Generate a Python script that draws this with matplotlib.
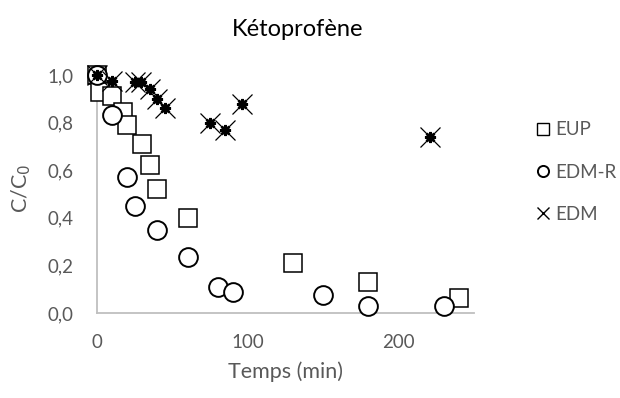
import matplotlib
matplotlib.use("Agg")
import matplotlib.pyplot as plt
from matplotlib.lines import Line2D

plt.rcParams['font.family'] = ['Lato', 'DejaVu Sans']

# data
t_eup = [0, 2, 10, 17, 20, 30, 35, 40, 60, 130, 180, 240]
c_eup = [1.0, 0.93, 0.91, 0.845, 0.79, 0.71, 0.62, 0.52, 0.40, 0.21, 0.13, 0.065]

t_edmr = [0, 10, 20, 25, 40, 60, 80, 90, 150, 180, 230]
c_edmr = [1.0, 0.83, 0.57, 0.45, 0.35, 0.235, 0.11, 0.09, 0.075, 0.03, 0.03]

t_edm = [0, 10, 25, 29, 35, 40, 45, 75, 85, 96, 221]
c_edm = [1.0, 0.975, 0.97, 0.97, 0.94, 0.90, 0.86, 0.80, 0.77, 0.88, 0.74]

xticks = [0, 100, 200]
yticks = [0.0, 0.2, 0.4, 0.6, 0.8, 1.0]

grey = '#595959'

fig = plt.figure(figsize=(6.2, 3.98), dpi=100)
ax = fig.add_axes([0.1565, 0.2136, 0.608, 0.598])

ax.plot(t_eup, c_eup, ls='none', marker='s', ms=13.5, mfc='white', mec='black',
        mew=1.1, clip_on=False, zorder=3)
ax.plot(t_edmr, c_edmr, ls='none', marker='o', ms=13.5, mfc='white', mec='black',
        mew=1.4, clip_on=False, zorder=4)
ax.plot(t_edm, c_edm, ls='none', marker='x', ms=14, mec='black', mew=0.9,
        clip_on=False, zorder=5)
ax.plot(t_edm, c_edm, ls='none', marker=(8, 2, 0), ms=8, mec='black', mew=1.8,
        clip_on=False, zorder=5)

ax.set_xlim(0, 250)
ax.set_ylim(0, 1.0)
ax.set_xticks(xticks)
ax.set_yticks(yticks)
ax.set_yticklabels([f"{v:.1f}".replace('.', ',') for v in yticks])
ax.tick_params(length=0, labelsize=13.5, colors=grey)
ax.tick_params(axis='y', pad=17)
ax.tick_params(axis='x', pad=15)

for s in ['top', 'right']:
    ax.spines[s].set_visible(False)
for s in ['left', 'bottom']:
    ax.spines[s].set_color('#BFBFBF')
    ax.spines[s].set_linewidth(1.3)
    ax.spines[s].set_zorder(1)

fig.text(0.48, 1 - 30 / 398, 'Kétoprofène', fontsize=17, color='black',
         ha='center', va='center')
ax.set_xlabel('Temps (min)', fontsize=15.5, color=grey, va='center')
ax.xaxis.set_label_coords(0.5, -0.245)
ax.set_ylabel('C/C$_0$', fontsize=15.5, color=grey, va='center')
ax.yaxis.set_label_coords(-0.2, 0.525)

handles = [
    Line2D([], [], ls='none', marker='s', ms=8, mfc='white', mec='black', mew=1),
    Line2D([], [], ls='none', marker='o', ms=8, mfc='white', mec='black', mew=1.4),
    Line2D([], [], ls='none', marker='x', ms=8, mec='black', mew=1),
]
fig.legend(handles, ['EUP', 'EDM-R', 'EDM'], loc='upper left',
           bbox_to_anchor=(0.86, 0.695), frameon=False, fontsize=13.5,
           labelcolor=grey, handlelength=1.0, handletextpad=0.2,
           labelspacing=1.35, borderaxespad=0, borderpad=0)

fig.savefig('out.png', dpi=100)
